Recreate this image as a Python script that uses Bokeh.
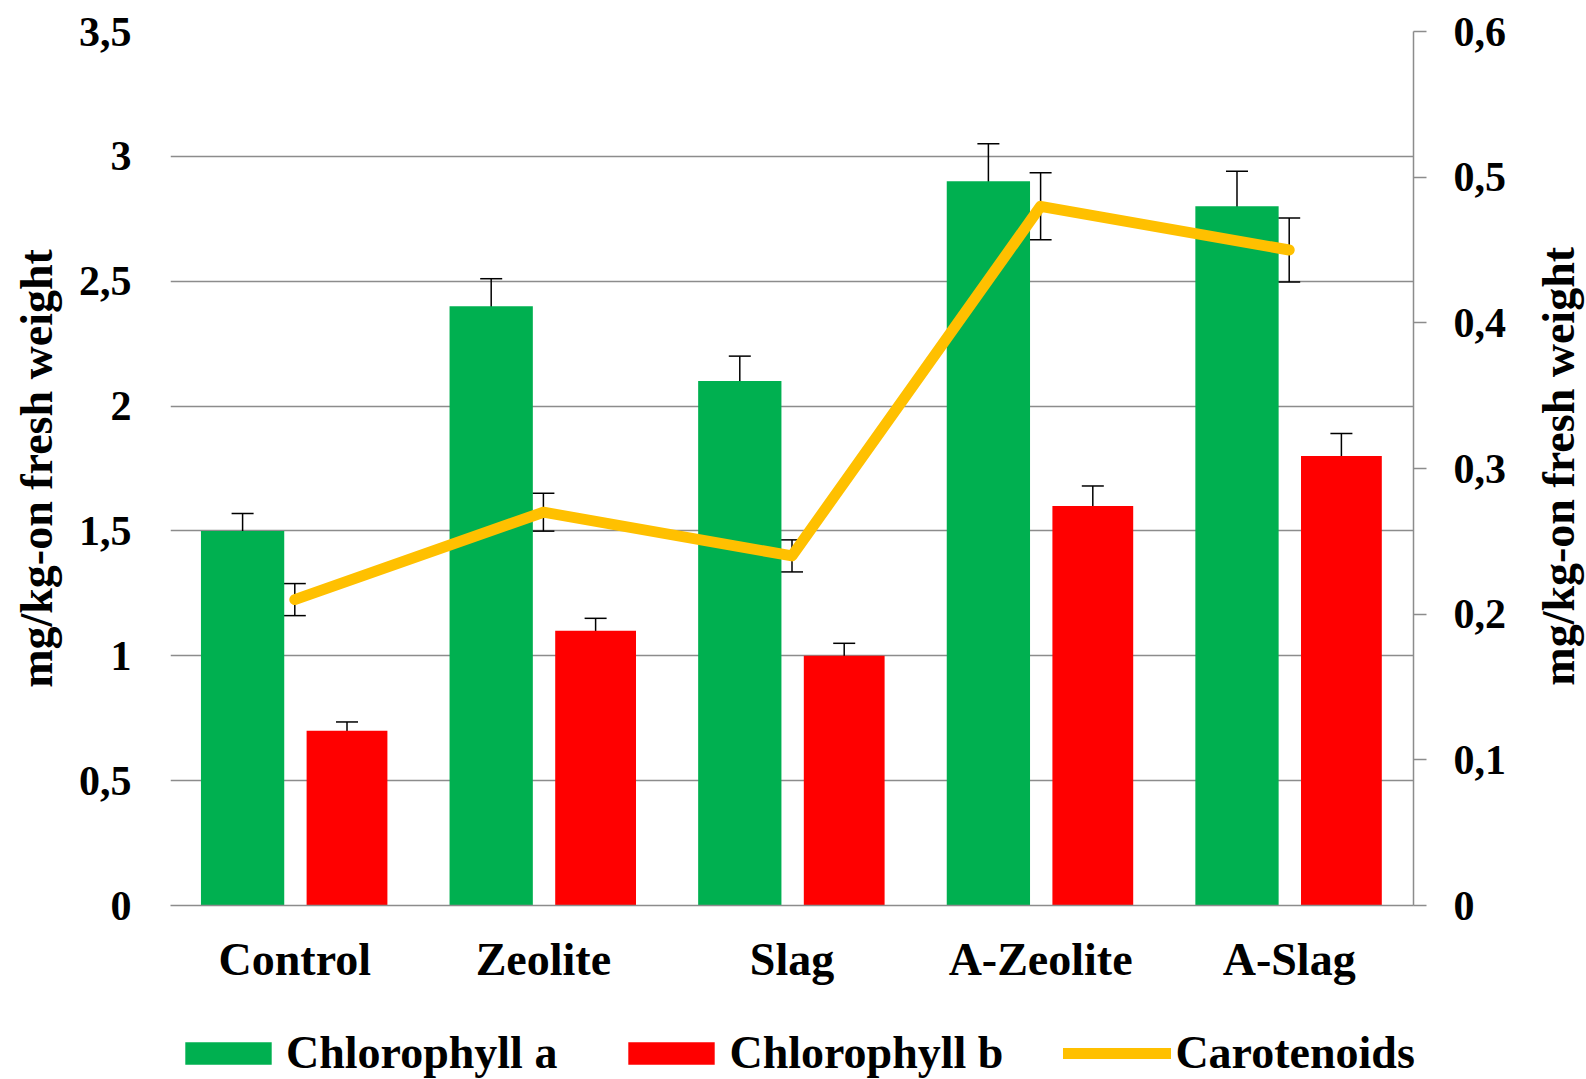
import math
from bokeh.plotting import figure
from bokeh.layouts import column, row
from bokeh.models import (ColumnDataSource, FactorRange, Range1d, LinearAxis, FixedTicker,
                          CustomJSTickFormatter, Whisker, TeeHead, Legend, LegendItem, Label)
from bokeh.transform import dodge
from bokeh.embed import file_html
from bokeh.resources import INLINE

categories = ["Control", "Zeolite", "Slag", "A-Zeolite", "A-Slag"]
chl_a = [1.50, 2.40, 2.10, 2.90, 2.80]
chl_a_err = [0.07, 0.11, 0.10, 0.15, 0.14]
chl_b = [0.70, 1.10, 1.00, 1.60, 1.80]
chl_b_err = [0.035, 0.05, 0.05, 0.08, 0.09]
carotenoids = [0.21, 0.27, 0.24, 0.48, 0.45]
carotenoids_err = [0.011, 0.013, 0.011, 0.023, 0.022]
left_ticks = [0, 0.5, 1, 1.5, 2, 2.5, 3, 3.5]
right_ticks = [0, 0.1, 0.2, 0.3, 0.4, 0.5, 0.6]
series_labels = ["Chlorophyll a", "Chlorophyll b", "Carotenoids"]
axis_title = "mg/kg-on fresh weight"

GREEN = "#00B050"
RED = "#FF0000"
GOLD = "#FFC000"
GRID = "#8C8C8C"
FONT = "Liberation Serif"
FS = "46px"
TICK_FS = "42px"

TOTAL_W, TOTAL_H = 1586, 1079
FRAME_L, FRAME_R, FRAME_T, FRAME_B = 170, 1413, 31, 905
MAIN_W = 1520
MAIN_H = 995
TITLE_W = TOTAL_W - MAIN_W
LEG_H = TOTAL_H - MAIN_H

src = ColumnDataSource(dict(
    cat=categories,
    a=chl_a, a_up=[v + e for v, e in zip(chl_a, chl_a_err)], a_lo=[v - e for v, e in zip(chl_a, chl_a_err)],
    b=chl_b, b_up=[v + e for v, e in zip(chl_b, chl_b_err)], b_lo=[v - e for v, e in zip(chl_b, chl_b_err)],
    c=carotenoids, c_up=[v + e for v, e in zip(carotenoids, carotenoids_err)],
    c_lo=[v - e for v, e in zip(carotenoids, carotenoids_err)],
))

p = figure(x_range=FactorRange(*categories), y_range=Range1d(0, 3.5),
           width=MAIN_W, height=MAIN_H, output_backend="svg", toolbar_location=None,
           min_border_left=FRAME_L, min_border_right=MAIN_W - FRAME_R,
           min_border_top=FRAME_T, min_border_bottom=MAIN_H - FRAME_B)
p.outline_line_color = None
p.background_fill_color = "white"
p.border_fill_color = "white"
p.xgrid.visible = False
p.ygrid.grid_line_color = GRID
p.ygrid.grid_line_width = 1.5

fmt = CustomJSTickFormatter(code="""
const v = Math.round(tick * 10) / 10;
return (Math.abs(v % 1) < 1e-9) ? v.toFixed(0) : v.toFixed(1).replace('.', ',');
""")

# left axis
yl = p.yaxis[0]
yl.ticker = FixedTicker(ticks=left_ticks)
yl.formatter = fmt
yl.axis_line_color = None
yl.major_tick_line_color = None
yl.minor_tick_line_color = None
yl.major_label_standoff = 33
yl.major_label_text_font = FONT
yl.major_label_text_font_style = "bold"
yl.major_label_text_font_size = TICK_FS
yl.major_label_text_color = "black"
yl.axis_label = axis_title
yl.axis_label_text_font = FONT
yl.axis_label_text_font_style = "bold"
yl.axis_label_text_font_size = FS
yl.axis_label_text_color = "black"
yl.axis_label_standoff = 14

# bottom axis
xa = p.xaxis[0]
xa.axis_line_color = GRID
xa.axis_line_width = 1.5
xa.major_tick_line_color = None
xa.minor_tick_line_color = None
xa.major_label_standoff = 22
xa.major_label_text_font = FONT
xa.major_label_text_font_style = "bold"
xa.major_label_text_font_size = FS
xa.major_label_text_color = "black"

# right axis
p.extra_y_ranges = {"car": Range1d(0, 0.6)}
yr = LinearAxis(y_range_name="car", ticker=FixedTicker(ticks=right_ticks), formatter=fmt)
yr.axis_line_color = GRID
yr.axis_line_width = 1.5
yr.major_tick_line_color = GRID
yr.major_tick_line_width = 1.5
yr.major_tick_in = 0
yr.major_tick_out = 13
yr.minor_tick_line_color = None
yr.major_label_standoff = 27
yr.major_label_text_font = FONT
yr.major_label_text_font_style = "bold"
yr.major_label_text_font_size = TICK_FS
yr.major_label_text_color = "black"
p.add_layout(yr, "right")

# bars
ra = p.vbar(x=dodge("cat", -0.21, range=p.x_range), top="a", width=0.335, source=src,
            fill_color=GREEN, line_color=None)
rb = p.vbar(x=dodge("cat", 0.21, range=p.x_range), top="b", width=0.325, source=src,
            fill_color=RED, line_color=None)

def head():
    return TeeHead(size=22, line_color="black", line_width=1.5)

wa = Whisker(base=dodge("cat", -0.21, range=p.x_range), upper="a_up", lower="a_lo", source=src,
             line_color="black", line_width=1.5, upper_head=head(), lower_head=head())
wb = Whisker(base=dodge("cat", 0.21, range=p.x_range), upper="b_up", lower="b_lo", source=src,
             line_color="black", line_width=1.5, upper_head=head(), lower_head=head())
wc = Whisker(base="cat", upper="c_up", lower="c_lo", source=src, y_range_name="car",
             line_color="black", line_width=1.5, upper_head=head(), lower_head=head())
for w in (wa, wb, wc):
    p.add_layout(w)

rc = p.line(x="cat", y="c", source=src, y_range_name="car", line_color=GOLD, line_width=11,
            line_cap="round", line_join="round")
rc.level = "overlay"

# right axis title (reads bottom-to-top like the left one)
tfig = figure(width=TITLE_W, height=MAIN_H, x_range=Range1d(0, TITLE_W), y_range=Range1d(0, MAIN_H),
              x_axis_type=None, y_axis_type=None, toolbar_location=None, output_backend="svg",
              min_border=0, outline_line_color=None)
tfig.grid.visible = False
frame_mid = MAIN_H - (FRAME_T + FRAME_B) / 2.0
tfig.add_layout(Label(x=38, y=frame_mid - 27, text=axis_title, angle=math.pi / 2,
                      text_align="center", text_baseline="middle", text_font=FONT,
                      text_font_style="bold", text_font_size=FS, text_color="black"))

# legend strip (legend swatches come from the same series, drawn off-canvas in this strip)
lfig = figure(width=TOTAL_W, height=LEG_H, x_range=FactorRange(*categories), y_range=Range1d(-10, -9),
              x_axis_type=None, y_axis_type=None, toolbar_location=None, output_backend="svg",
              min_border=0, outline_line_color=None)
lfig.grid.visible = False
off = dodge("cat", 100, range=lfig.x_range)
la = lfig.vbar(x=off, top="a", width=0.3, source=src, fill_color=GREEN, line_color=None)
lb = lfig.vbar(x=off, top="b", width=0.3, source=src, fill_color=RED, line_color=None)
lc = lfig.line(x=off, y="c", source=src, line_color=GOLD, line_width=11, line_cap="round")
legend = Legend(items=[LegendItem(label=series_labels[0], renderers=[la]),
                       LegendItem(label=series_labels[1], renderers=[lb]),
                       LegendItem(label=series_labels[2], renderers=[lc])],
                orientation="horizontal", location=(174, 0))
legend.label_text_font = FONT
legend.label_text_font_style = "bold"
legend.label_text_font_size = FS
legend.label_text_color = "black"
legend.glyph_width = 108
legend.glyph_height = 28
legend.label_standoff = 4
legend.spacing = 60
legend.padding = 0
legend.margin = 0
legend.border_line_color = None
legend.background_fill_alpha = 0
lfig.add_layout(legend)

layout = column(row(p, tfig), lfig)
open("out.html", "w").write(file_html(layout, INLINE))
